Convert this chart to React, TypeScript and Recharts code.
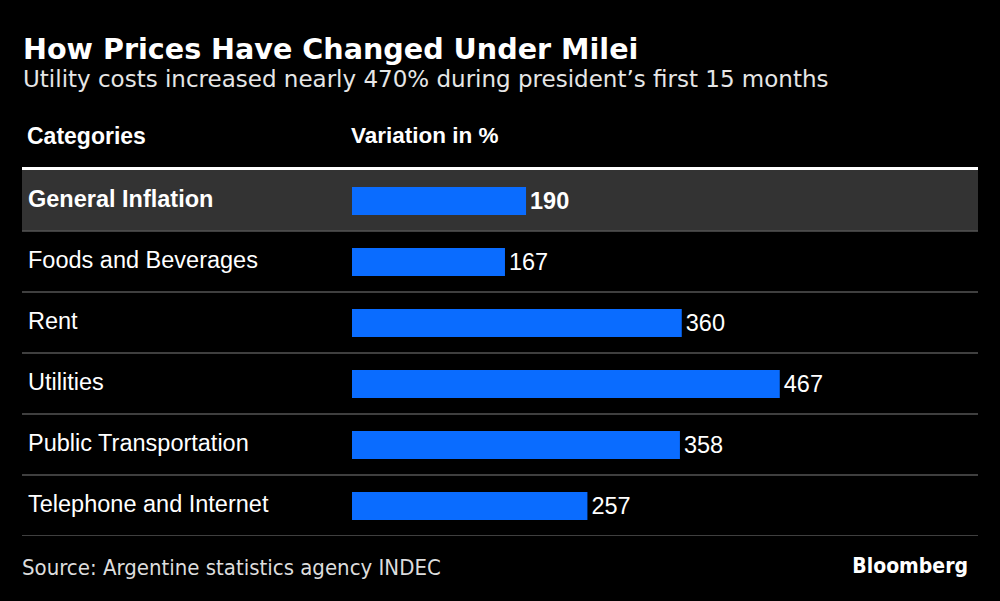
import { BarChart, Bar, XAxis, YAxis, LabelList } from "recharts"

const categories = [
  "General Inflation",
  "Foods and Beverages",
  "Rent",
  "Utilities",
  "Public Transportation",
  "Telephone and Internet",
]
const variation = [190, 167, 360, 467, 358, 257]
const highlighted = "General Inflation"

const ROW = 61
const TABLE_LEFT = 22
const TABLE_RIGHT = 978
const tableFont = "'Liberation Sans', Arial, sans-serif"

const data = categories.map((category, i) => ({ category, value: variation[i] }))

const CategoryTick = ({ y, payload }: any) => {
  const bold = payload.value === highlighted
  return (
    <g>
      <text
        x={28}
        y={y - 2}
        dy="0.35em"
        fill="#fff"
        fontFamily={tableFont}
        fontSize={23.5}
        fontWeight={bold ? 700 : 400}
      >
        {payload.value}
      </text>
      <line x1={TABLE_LEFT} x2={TABLE_RIGHT} y1={y + ROW / 2} y2={y + ROW / 2} stroke="#555" strokeWidth={1.5} />
    </g>
  )
}

const ValueLabel = (props: any) => {
  const { x, y, width, height, value, index } = props
  const bold = categories[index] === highlighted
  return (
    <text
      x={x + width + 4}
      y={y + height / 2}
      dy="0.36em"
      fill="#fff"
      fontFamily={tableFont}
      fontSize={23.5}
      fontWeight={bold ? 700 : 400}
    >
      {value}
    </text>
  )
}

export default function App() {
  const hiIndex = categories.indexOf(highlighted)
  return (
    <div
      style={{
        position: "absolute",
        top: 0,
        left: 0,
        width: 1000,
        height: 601,
        background: "#000",
        color: "#fff",
        overflow: "hidden",
      }}
    >
      <div
        style={{
          position: "absolute",
          left: 23,
          top: 35,
          fontFamily: "'DejaVu Sans', sans-serif",
          fontWeight: 700,
          fontSize: 28.6,
          lineHeight: "28px",
          whiteSpace: "nowrap",
        }}
      >
        How Prices Have Changed Under Milei
      </div>
      <div
        style={{
          position: "absolute",
          left: 23,
          top: 68,
          fontFamily: "'DejaVu Sans', sans-serif",
          fontSize: 23,
          lineHeight: "23px",
          color: "#e6e6e6",
          whiteSpace: "nowrap",
        }}
      >
        Utility costs increased nearly 470% during president’s first 15 months
      </div>
      <div
        style={{
          position: "absolute",
          left: 27,
          top: 123,
          fontFamily: tableFont,
          fontWeight: 700,
          fontSize: 23,
          lineHeight: "26px",
        }}
      >
        Categories
      </div>
      <div
        style={{
          position: "absolute",
          left: 351,
          top: 123,
          fontFamily: tableFont,
          fontWeight: 700,
          fontSize: 22.5,
          lineHeight: "26px",
        }}
      >
        Variation in %
      </div>
      <div
        style={{
          position: "absolute",
          left: TABLE_LEFT,
          top: 167,
          width: TABLE_RIGHT - TABLE_LEFT,
          height: 3,
          background: "#fff",
        }}
      />
      {hiIndex >= 0 && (
        <div
          style={{
            position: "absolute",
            left: TABLE_LEFT,
            top: 170 + hiIndex * ROW,
            width: TABLE_RIGHT - TABLE_LEFT,
            height: ROW,
            background: "#333",
          }}
        />
      )}
      <div style={{ position: "absolute", left: 0, top: 170 }}>
        <BarChart
          width={1000}
          height={ROW * categories.length}
          data={data}
          layout="vertical"
          margin={{ top: 0, right: 190, bottom: 0, left: 0 }}
          barSize={28}
        >
          <XAxis type="number" domain={[0, 500]} hide />
          <YAxis
            type="category"
            dataKey="category"
            width={352}
            axisLine={false}
            tickLine={false}
            interval={0}
            tick={<CategoryTick />}
          />
          <Bar dataKey="value" fill="#0a6cff" isAnimationActive={false}>
            <LabelList dataKey="value" content={<ValueLabel />} />
          </Bar>
        </BarChart>
      </div>
      <div
        style={{
          position: "absolute",
          left: 22,
          top: 555,
          fontFamily: "'DejaVu Sans Condensed', 'DejaVu Sans', sans-serif",
          fontSize: 22,
          lineHeight: "26px",
          color: "#ddd",
          whiteSpace: "nowrap",
        }}
      >
        Source: Argentine statistics agency INDEC
      </div>
      <div
        style={{
          position: "absolute",
          right: 32,
          top: 554,
          fontFamily: "'DejaVu Sans Condensed', 'DejaVu Sans', sans-serif",
          fontWeight: 700,
          fontSize: 21,
          lineHeight: "24px",
        }}
      >
        Bloomberg
      </div>
    </div>
  )
}
